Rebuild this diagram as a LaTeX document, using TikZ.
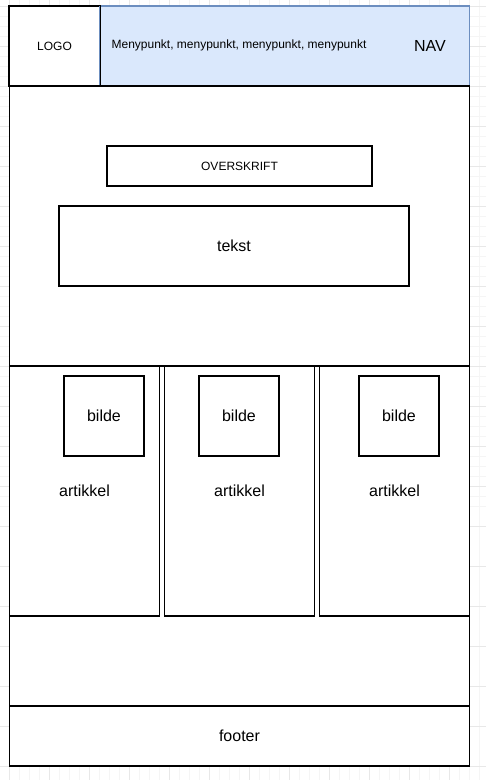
\documentclass[tikz,border=0pt]{standalone}
\usepackage{fontspec}
\setmainfont{Liberation Sans}
\definecolor{navfill}{HTML}{DAE8FC}
\definecolor{navline}{HTML}{6C8EBF}
\begin{document}
\begin{tikzpicture}[x=1pt,y=-1pt,
    box/.style={draw=black,line width=1.1pt,rectangle,inner sep=0pt},
    small/.style={font=\fontsize{12}{14}\selectfont},
    big/.style={font=\fontsize{16}{19}\selectfont},
    minorgrid/.style={draw=black!4,line width=0.6pt},
    majorgrid/.style={draw=black!9,line width=0.8pt}]
  \useasboundingbox (0,0) rectangle (486,780);
  \fill[white] (0,0) rectangle (486,780);
  % background grid
  \foreach \i in {-30,...,50} {
    \draw[minorgrid] (9.5+10*\i,0) -- (9.5+10*\i,780);
    \draw[minorgrid] (0,6+10*\i) -- (486,6+10*\i);
  }
  \foreach \i in {-1,...,13} {
    \draw[majorgrid] (9.5+40*\i,0) -- (9.5+40*\i,780);
  }
  \foreach \i in {-1,...,20} {
    \draw[majorgrid] (0,6+40*\i) -- (486,6+40*\i);
  }
  \fill[white] (9.5,6) rectangle (469.5,766);
  \draw
    (239.5,386) node[box,minimum width=460,minimum height=760] (page){}
    (54.5,46) node[box,small,minimum width=90,minimum height=80] (logo){LOGO}
    (284.5,46) node[box,draw=navline,fill=navfill,minimum width=370,minimum height=80] (nav){}
    (239.5,226) node[box,minimum width=460,minimum height=280] (hero){}
    (239.5,166) node[box,small,minimum width=265,minimum height=40] (overskrift){OVERSKRIFT}
    (234,246) node[box,big,minimum width=350,minimum height=80] (tekst){tekst}
    (84.5,491) node[box,big,minimum width=150,minimum height=250] (art1){artikkel}
    (239.5,491) node[box,big,minimum width=150,minimum height=250] (art2){artikkel}
    (394.5,491) node[box,big,minimum width=150,minimum height=250] (art3){artikkel}
    (104,416) node[box,big,minimum width=80,minimum height=80] (bilde1){bilde}
    (239,416) node[box,big,minimum width=80,minimum height=80] (bilde2){bilde}
    (399,416) node[box,big,minimum width=80,minimum height=80] (bilde3){bilde}
    (239.5,736) node[box,big,minimum width=460,minimum height=60] (footer){footer};
  \node[small] (meny) at (239,45) {Menypunkt, menypunkt, menypunkt, menypunkt};
  \node[big] (navtxt) at (430,46) {NAV};
  \draw[line width=1.1pt] (logo.north west) rectangle (logo.south east);
\end{tikzpicture}
\end{document}
